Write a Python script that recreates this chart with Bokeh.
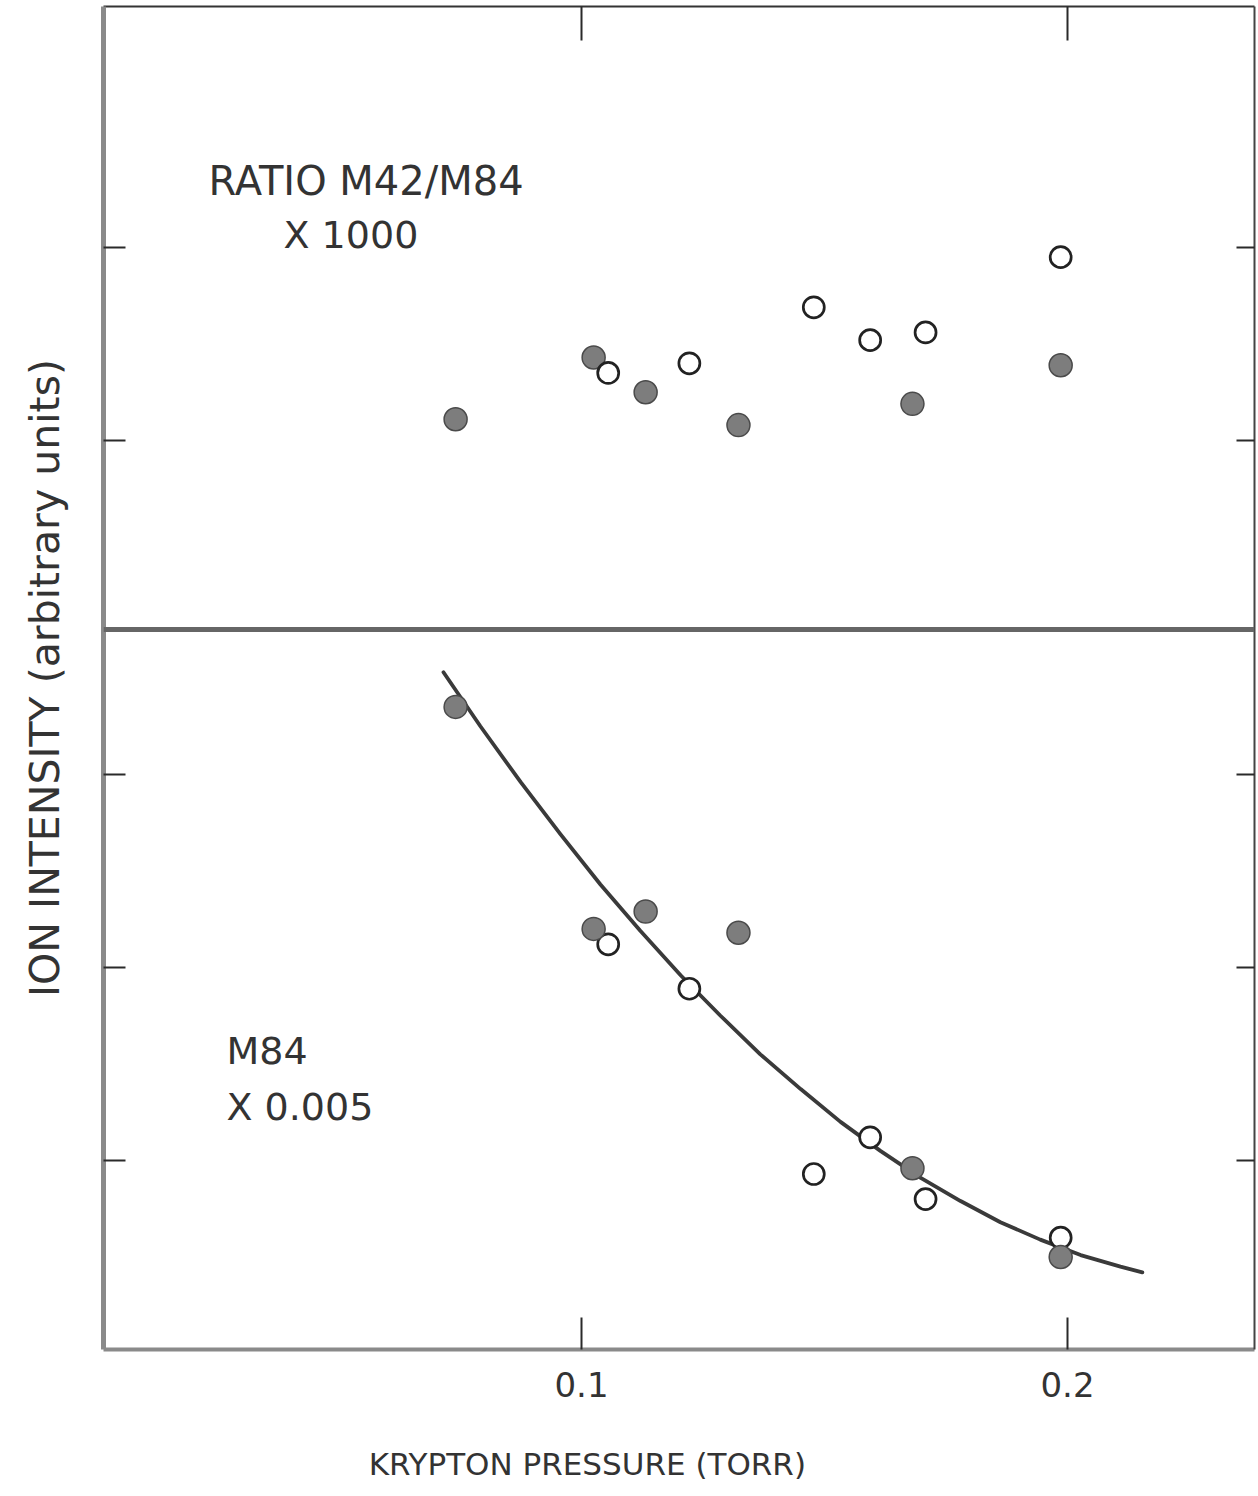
from bokeh.plotting import figure
from bokeh.models import LinearAxis, Range1d, FixedTicker, Span, Label
from bokeh.embed import file_html
from bokeh.resources import INLINE

# ---- data ----
pressure_filled = [0.0741, 0.1025, 0.1132, 0.1323, 0.1681, 0.1986]
pressure_open = [0.1055, 0.1222, 0.1478, 0.1594, 0.1708, 0.1986]

ratio_filled = [1.11, 1.43, 1.25, 1.08, 1.19, 1.39]   # RATIO M42/M84 x 1000
ratio_open = [1.35, 1.40, 1.69, 1.52, 1.56, 1.95]

m84_filled = [3.35, 2.20, 2.29, 2.18, 0.96, 0.50]     # M84 x 0.005
m84_open = [2.12, 1.89, 0.93, 1.12, 0.80, 0.60]

# drawn curve, read along its length
curve_x = [0.0716, 0.0792, 0.0875, 0.0957, 0.1039, 0.1121, 0.1204, 0.1286, 0.1368, 0.1451,
           0.1533, 0.1615, 0.1698, 0.1780, 0.1862, 0.1944, 0.2027, 0.2109, 0.2154]
curve_y = [3.53, 3.25, 2.96, 2.69, 2.43, 2.19, 1.96, 1.75, 1.55, 1.37,
           1.20, 1.05, 0.91, 0.79, 0.68, 0.59, 0.51, 0.45, 0.42]

x_ticks = [0.1, 0.2]
x_tick_labels = {0.1: "0.1", 0.2: "0.2"}
m84_ticks = [1, 2, 3]
ratio_ticks = [1, 2]
x_title = "KRYPTON PRESSURE (TORR)"
y_title = "ION INTENSITY (arbitrary units)"

# ---- ranges ----
X0, X1 = 0.00165, 0.23848
M0, M1 = 0.0207, 6.9793          # lower panel (M84)
R0, R1 = -3.7098, 3.2487         # upper panel (ratio), same scale
DIVIDER = 3.751                  # panel separation in lower-panel units
X_TITLE_POS = 0.1012             # where the x title is centred

FONT = "DejaVu Sans"
INK = "#333333"

p = figure(width=1258, height=1496, x_range=Range1d(X0, X1), y_range=Range1d(M0, M1),
           output_backend="svg", toolbar_location=None,
           min_border_left=103, min_border_right=4, min_border_top=6, min_border_bottom=147,
           x_axis_location=None, y_axis_location=None)
p.extra_y_ranges = {"ratio": Range1d(R0, R1)}
p.xgrid.visible = False
p.ygrid.visible = False
p.outline_line_color = None
p.background_fill_color = "white"
p.border_fill_color = "white"

# all y ticks in lower-panel units
y_tick_pos = list(m84_ticks) + [t - R0 + M0 for t in ratio_ticks]
blank_y = {t: "" for t in y_tick_pos}


def style_axis(ax, line_w, line_c, tick_in):
    ax.axis_line_width = line_w
    ax.axis_line_color = line_c
    ax.major_tick_in = tick_in
    ax.major_tick_out = 0
    ax.major_tick_line_width = 2
    ax.major_tick_line_color = "#2a2a2a"
    ax.minor_tick_line_color = None


left = LinearAxis(ticker=FixedTicker(ticks=y_tick_pos), major_label_overrides=blank_y)
style_axis(left, 5, "#8a8a8a", 22)
left.major_label_text_font_size = "0px"
left.axis_label = y_title
left.axis_label_text_font = FONT
left.axis_label_text_font_size = "41px"
left.axis_label_text_font_style = "normal"
left.axis_label_text_color = INK
left.axis_label_standoff = 35
p.add_layout(left, "left")

right = LinearAxis(ticker=FixedTicker(ticks=y_tick_pos), major_label_overrides=blank_y)
style_axis(right, 2, "#444444", 18)
right.major_label_text_font_size = "0px"
p.add_layout(right, "right")

top = LinearAxis(ticker=FixedTicker(ticks=x_ticks), major_label_overrides={t: "" for t in x_ticks})
style_axis(top, 2, "#333333", 34)
top.major_label_text_font_size = "0px"
p.add_layout(top, "above")

bottom = LinearAxis(ticker=FixedTicker(ticks=x_ticks), major_label_overrides=x_tick_labels)
style_axis(bottom, 4, "#8a8a8a", 32)
bottom.major_label_text_font = FONT
bottom.major_label_text_font_size = "34px"
bottom.major_label_text_color = INK
bottom.major_label_standoff = 22
p.add_layout(bottom, "below")

# x title: carried by a bare second bottom axis so it can sit off-centre
xtitle = LinearAxis(ticker=FixedTicker(ticks=[X_TITLE_POS]),
                    major_label_overrides={X_TITLE_POS: x_title})
xtitle.axis_line_color = None
xtitle.major_tick_line_color = None
xtitle.minor_tick_line_color = None
xtitle.major_tick_in = 0
xtitle.major_tick_out = 0
xtitle.major_label_text_font = FONT
xtitle.major_label_text_font_size = "31px"
xtitle.major_label_text_color = INK
xtitle.major_label_standoff = 46
p.add_layout(xtitle, "below")

# panel divider
p.add_layout(Span(location=DIVIDER, dimension="width", line_width=5, line_color="#666666"))

# ---- upper panel: ratio ----
p.scatter(pressure_filled, ratio_filled, y_range_name="ratio", size=23,
          fill_color="#7d7d7d", line_color="#4a4a4a", line_width=1.5)
p.scatter(pressure_open, ratio_open, y_range_name="ratio", size=21,
          fill_color="white", line_color="#222222", line_width=2.7)

# ---- lower panel: M84 ----
p.line(curve_x, curve_y, line_width=3.8, line_color="#3a3a3a", line_join="round", line_cap="round")
p.scatter(pressure_open, m84_open, size=21,
          fill_color="white", line_color="#222222", line_width=2.7)
p.scatter(pressure_filled, m84_filled, size=23,
          fill_color="#7d7d7d", line_color="#4a4a4a", line_width=1.5)

# ---- text annotations ----
def add_text(txt, sx, sy, size="38px"):
    p.add_layout(Label(x=sx, y=sy, x_units="screen", y_units="screen", text=txt,
                       text_font=FONT, text_font_size=size, text_color=INK,
                       text_baseline="alphabetic", text_align="left"))

add_text("RATIO M42/M84", 105, 1169, size="40px")
add_text("X 1000", 180, 1115)
add_text("M84", 123, 299)
add_text("X 0.005", 123, 243)

open("out.html", "w").write(file_html(p, INLINE))
